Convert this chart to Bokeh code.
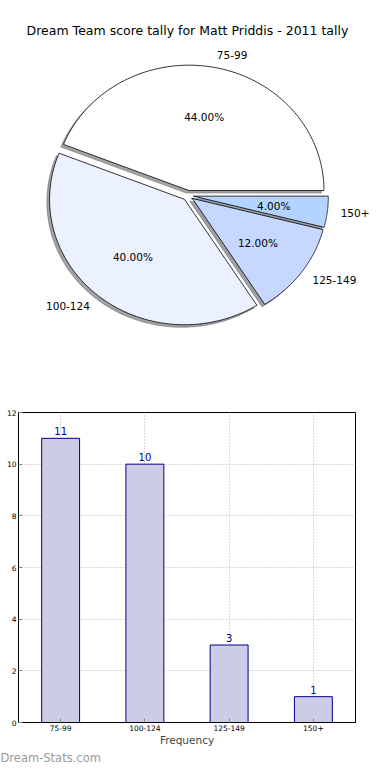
import numpy as np
from bokeh.plotting import figure
from bokeh.models import ColumnDataSource, Label, FixedTicker, FactorRange, Range1d, Title
from bokeh.core.properties import value
from bokeh.embed import file_html
from bokeh.resources import INLINE

# ---- data ----
categories = ["75-99", "100-124", "125-149", "150+"]
counts = [11, 10, 3, 1]
pie_colors = ["#ffffff", "#ebf1fe", "#c6d8ff", "#b3d4ff"]
y_ticks = [0, 2, 4, 6, 8, 10, 12]
title_text = "Dream Team score tally for Matt Priddis - 2011 tally"
x_label = "Frequency"
watermark = "Dream-Stats.com"

FONT = "DejaVu Sans"
explode = 0.04
W = 374
PH = 392
BH = 372

total = sum(counts)
fracs = [c / total for c in counts]
starts = np.cumsum([0] + fracs[:-1]) * 2 * np.pi
ends = np.cumsum(fracs) * 2 * np.pi

# ---- pie ----
cx_px, cy_px = 187.5, 195.0
rx, ry = 135.0, 125.4
pie = figure(width=W, height=PH,
             x_range=Range1d(-cx_px / rx, (W - cx_px) / rx),
             y_range=Range1d(-(PH - cy_px) / ry, cy_px / ry),
             x_axis_location=None, y_axis_location=None,
             toolbar_location=None, output_backend="svg",
             min_border=0, min_border_left=0, min_border_right=0,
             min_border_top=0, min_border_bottom=0,
             outline_line_color=None)
pie.grid.visible = False

def shade(hexc):
    r, g, b = int(hexc[1:3], 16), int(hexc[3:5], 16), int(hexc[5:7], 16)
    return "#%02x%02x%02x" % (int(r * 0.3), int(g * 0.3), int(b * 0.3))

xs, ys, sx, sy = [], [], [], []
lab_x, lab_y, lab_align = [], [], []
pct_x, pct_y, pct_txt = [], [], []
for s, e, f in zip(starts, ends, fracs):
    m = (s + e) / 2
    ox, oy = explode * np.cos(m), explode * np.sin(m)
    t = np.linspace(s, e, 120)
    px = np.concatenate([[ox], ox + np.cos(t), [ox]])
    py = np.concatenate([[oy], oy + np.sin(t), [oy]])
    xs.append(list(px)); ys.append(list(py))
    sx.append(list(px - 0.02)); sy.append(list(py - 0.02))
    d = explode + 1.1
    lab_x.append(d * np.cos(m)); lab_y.append(d * np.sin(m))
    lab_align.append("left" if np.cos(m) > 0 else "right")
    d2 = explode + 0.6
    pct_x.append(d2 * np.cos(m)); pct_y.append(d2 * np.sin(m))
    pct_txt.append("%.2f%%" % (f * 100))

shadow_src = ColumnDataSource(dict(xs=sx, ys=sy, c=[shade(c) for c in pie_colors]))
pie.patches("xs", "ys", source=shadow_src, fill_color="c", fill_alpha=0.5,
            line_color="c", line_alpha=0.5, line_width=0.8)
wedge_src = ColumnDataSource(dict(xs=xs, ys=ys, c=pie_colors))
pie.patches("xs", "ys", source=wedge_src, fill_color="c", line_color="black", line_width=0.8)

lab_src = ColumnDataSource(dict(x=lab_x, y=lab_y, t=categories, a=lab_align))
pie.text("x", "y", text="t", text_align="a", text_baseline="middle", source=lab_src,
         text_font=value(FONT), text_font_size="10.5px", text_color="black")
pct_src = ColumnDataSource(dict(x=pct_x, y=pct_y, t=pct_txt))
pie.text("x", "y", text="t", text_align="center", text_baseline="middle", source=pct_src,
         text_font=value(FONT), text_font_size="10.5px", text_color="black")

pie.add_layout(Label(x=W / 2, y=PH - 29.5, x_units="screen", y_units="screen",
                     text=title_text, text_align="center", text_baseline="middle",
                     text_font=FONT, text_font_size="12.5px", text_color="black"))

# ---- bar ----
bar = figure(width=W, height=BH, x_range=FactorRange(*categories),
             y_range=Range1d(0, 12), toolbar_location=None, output_backend="svg",
             min_border_left=18, min_border_right=19, min_border_top=20, min_border_bottom=39)
bar_src = ColumnDataSource(dict(cat=categories, n=counts, t=[str(c) for c in counts]))
bar.vbar(x="cat", top="n", width=0.45, source=bar_src, fill_color="#cccce6",
         line_color="#00008b", line_width=1)
bar.text(x="cat", y="n", text="t", source=bar_src, text_align="center",
         text_baseline="bottom", y_offset=-3, text_font=value(FONT),
         text_font_size="10px", text_color="#00008b")

bar.outline_line_color = "black"
bar.outline_line_width = 1
bar.yaxis.ticker = FixedTicker(ticks=y_ticks)
for ax in (bar.xaxis, bar.yaxis):
    ax.major_tick_in = 4
    ax.major_tick_out = 0
    ax.major_tick_line_color = "#888888"
    ax.minor_tick_line_color = None
    ax.axis_line_color = "black"
    ax.major_label_text_font = FONT
    ax.major_label_text_font_size = "7.5px"
    ax.major_label_text_color = "black"
    ax.major_label_standoff = 2
bar.xaxis.axis_label = x_label
bar.xaxis.axis_label_text_font = FONT
bar.xaxis.axis_label_text_font_size = "10.5px"
bar.xaxis.axis_label_text_font_style = "normal"
bar.xaxis.axis_label_standoff = 0
bar.grid.grid_line_color = "#b4b4b4"
bar.grid.grid_line_dash = "1 2"
bar.grid.grid_line_width = 1

bar.add_layout(Title(text=watermark, align="left", offset=-18, standoff=0,
                     text_font=FONT, text_font_size="11.5px", text_font_style="normal",
                     text_color="#9a9a9a"), "below")

open("out.html", "w").write(file_html([pie, bar], INLINE))
